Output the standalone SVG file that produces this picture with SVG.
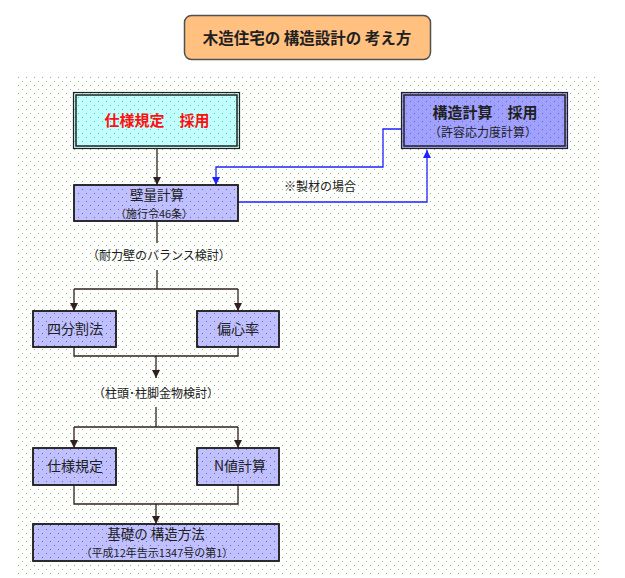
<svg xmlns="http://www.w3.org/2000/svg" width="625" height="578" viewBox="0 0 625 578">
<style>
.jp{font-family:"Noto Sans CJK JP","Noto Sans",sans-serif;fill:#202020;text-anchor:middle}
.box{stroke:#202020;stroke-width:1.5}
.purple{fill:#c0c0ff}
.con{fill:none;stroke:#302020;stroke-width:1.3}
.blue{fill:none;stroke:#2020ff;stroke-width:1.3}
</style>
<defs>
<pattern id="dots" x="18" y="77" width="8" height="8" patternUnits="userSpaceOnUse">
<rect x="0" y="0" width="1" height="1" fill="#80c050" shape-rendering="crispEdges"/>
<rect x="4" y="4" width="1" height="1" fill="#80c050" shape-rendering="crispEdges"/>
</pattern>
<pattern id="dotsDark" x="18" y="77" width="8" height="8" patternUnits="userSpaceOnUse">
<rect x="0" y="0" width="1" height="1" fill="#6868a8" shape-rendering="crispEdges"/>
<rect x="4" y="4" width="1" height="1" fill="#6868a8" shape-rendering="crispEdges"/>
</pattern>
<marker id="ah" viewBox="0 0 8 8" refX="8" refY="4" markerWidth="8" markerHeight="8" markerUnits="userSpaceOnUse" orient="auto">
<path d="M0,0 L8,4 L0,8 z" fill="#302020"/>
</marker>
<marker id="ahb" viewBox="0 0 8 8" refX="8" refY="4" markerWidth="8" markerHeight="8" markerUnits="userSpaceOnUse" orient="auto">
<path d="M0,0 L8,4 L0,8 z" fill="#2020ff"/>
</marker>
</defs>
<rect width="625" height="578" fill="#ffffff"/>
<rect x="18" y="77" width="582" height="500" fill="url(#dots)"/>

<g id="title">
<rect x="184.5" y="15.5" width="246" height="44" rx="7" fill="#ffc080" stroke="#505050" stroke-width="1.5"/>
<text class="jp" x="307" y="43.5" font-size="15.5" font-weight="bold" fill="#000">木造住宅の 構造設計の 考え方</text>
</g>

<g id="connectors">
<path class="con" d="M157,149 V185" marker-end="url(#ah)"/>
<path class="blue" d="M401,129 H383 V167 H216 V185" marker-end="url(#ahb)"/>
<path class="blue" d="M238,202 H427 V150" marker-end="url(#ahb)"/>
<path class="con" d="M157,221 V243"/>
<path class="con" d="M157,270 V289 M74,289 H238"/>
<path class="con" d="M74,289 V311" marker-end="url(#ah)"/>
<path class="con" d="M238,289 V311" marker-end="url(#ah)"/>
<path class="con" d="M74,347 V356 H238 V347"/>
<path class="con" d="M156,356 V378" marker-end="url(#ah)"/>
<path class="con" d="M156,407 V427 M74,427 H238"/>
<path class="con" d="M74,427 V448" marker-end="url(#ah)"/>
<path class="con" d="M238,427 V448" marker-end="url(#ah)"/>
<path class="con" d="M74,485 V504 H238 V485"/>
<path class="con" d="M156,504 V524" marker-end="url(#ah)"/>
<text class="jp" x="320" y="191" font-size="12">※製材の場合</text>
<text class="jp" x="159" y="260" font-size="12">（耐力壁のバランス検討）</text>
<text class="jp" x="156" y="398" font-size="12">（柱頭･柱脚金物検討）</text>
</g>

<g id="shiyou-saiyou">
<rect x="73.5" y="92.5" width="166" height="56" fill="#c0ffff" stroke="#202020" stroke-width="1.2"/>
<rect x="73.5" y="92.5" width="166" height="56" fill="url(#dots)"/>
<rect x="76" y="95" width="161" height="51" fill="none" stroke="#202020" stroke-width="1.5"/>
<text class="jp" x="157" y="126" font-size="15" font-weight="bold" style="fill:#ff1010">仕様規定　採用</text>
</g>

<g id="kouzou-saiyou">
<rect x="401.5" y="92.5" width="166" height="56" fill="#a0a0ff" stroke="#202020" stroke-width="1.2"/>
<rect x="401.5" y="92.5" width="166" height="56" fill="url(#dotsDark)"/>
<rect x="404" y="95" width="161" height="51" fill="none" stroke="#202020" stroke-width="1.5"/>
<text class="jp" x="485" y="118" font-size="15" font-weight="bold">構造計算　採用</text>
<text class="jp" x="483" y="137" font-size="12">（許容応力度計算）</text>
</g>

<g id="hekiryou">
<rect class="box purple" x="74" y="185" width="164" height="36"/>
<rect x="74" y="185" width="164" height="36" fill="url(#dotsDark)"/>
<rect x="74" y="185" width="164" height="36" fill="none" class="box"/>
<text class="jp" x="157" y="199.5" font-size="13.5">壁量計算</text>
<text class="jp" x="154" y="217.5" font-size="11">（施行令46条）</text>
</g>

<g id="yonbunkatsu">
<rect class="box purple" x="33" y="311" width="83" height="36"/>
<rect x="33" y="311" width="83" height="36" fill="url(#dotsDark)"/>
<rect x="33" y="311" width="83" height="36" fill="none" class="box"/>
<text class="jp" x="75" y="334" font-size="14">四分割法</text>
</g>

<g id="henshin">
<rect class="box purple" x="197" y="311" width="82" height="36"/>
<rect x="197" y="311" width="82" height="36" fill="url(#dotsDark)"/>
<rect x="197" y="311" width="82" height="36" fill="none" class="box"/>
<text class="jp" x="238" y="334" font-size="14">偏心率</text>
</g>

<g id="shiyou">
<rect class="box purple" x="33" y="448" width="83" height="37"/>
<rect x="33" y="448" width="83" height="37" fill="url(#dotsDark)"/>
<rect x="33" y="448" width="83" height="37" fill="none" class="box"/>
<text class="jp" x="75" y="471" font-size="14">仕様規定</text>
</g>

<g id="nchi">
<rect class="box purple" x="197" y="448" width="82" height="37"/>
<rect x="197" y="448" width="82" height="37" fill="url(#dotsDark)"/>
<rect x="197" y="448" width="82" height="37" fill="none" class="box"/>
<text class="jp" x="240" y="471" font-size="14">N値計算</text>
</g>

<g id="kiso">
<rect class="box purple" x="33" y="524" width="246" height="37"/>
<rect x="33" y="524" width="246" height="37" fill="url(#dotsDark)"/>
<rect x="33" y="524" width="246" height="37" fill="none" class="box"/>
<text class="jp" x="156" y="539" font-size="13.5">基礎の 構造方法</text>
<text class="jp" x="157" y="557" font-size="11">（平成12年告示1347号の第1）</text>
</g>
</svg>
